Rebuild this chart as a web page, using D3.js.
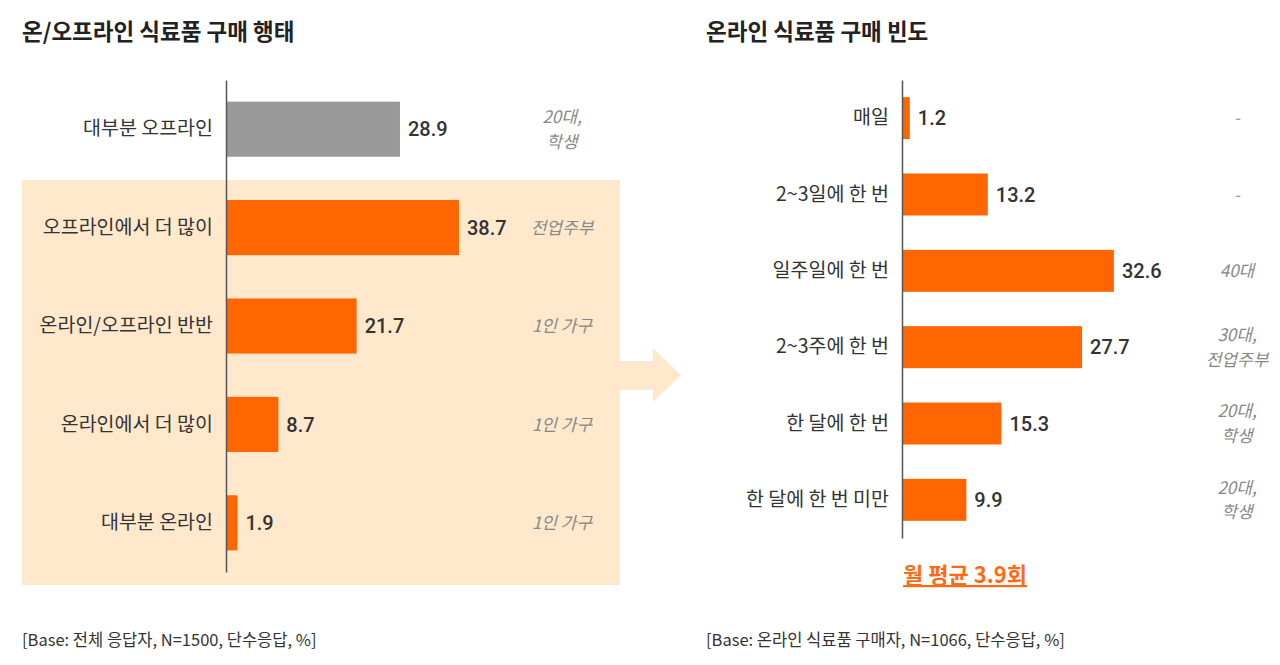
<!DOCTYPE html>
<html><head><meta charset="utf-8">
<script src="https://cdn.jsdelivr.net/npm/d3@7"></script>
<style>
html,body{margin:0;padding:0;background:#fff;}
text{font-family:"Noto Sans CJK KR","Noto Sans",sans-serif;}
</style></head>
<body><svg id="c" width="1280" height="665"></svg>
<script>
const leftCategories = ["대부분 오프라인","오프라인에서 더 많이","온라인/오프라인 반반","온라인에서 더 많이","대부분 온라인"];
const leftValues = [28.9, 38.7, 21.7, 8.7, 1.9];
const leftNotes = [["20대,","학생"],["전업주부"],["1인 가구"],["1인 가구"],["1인 가구"]];
const rightCategories = ["매일","2~3일에 한 번","일주일에 한 번","2~3주에 한 번","한 달에 한 번","한 달에 한 번 미만"];
const rightValues = [1.2, 13.2, 32.6, 27.7, 15.3, 9.9];
const rightNotes = [["-"],["-"],["40대"],["30대,","전업주부"],["20대,","학생"],["20대,","학생"]];
const leftTitle = "온/오프라인 식료품 구매 행태";
const rightTitle = "온라인 식료품 구매 빈도";
const leftBase = "[Base: 전체 응답자, N=1500, 단수응답, %]";
const rightBase = "[Base: 온라인 식료품 구매자, N=1066, 단수응답, %]";
const avgText = "월 평균 3.9회";

const svg = d3.select("#c");
const ORANGE = "#FF6600", GRAY = "#999999", BG = "#FFE8CC";

// background panel and arrow
svg.append("rect").attr("x",22).attr("y",180).attr("width",598).attr("height",405).attr("fill",BG);
svg.append("path").attr("d","M620,361 L653,361 L653,348 L681,375 L653,402 L653,390 L620,390 Z").attr("fill",BG);

// titles
svg.append("text").attr("x",22).attr("y",40).attr("font-size",22.5).attr("font-weight",700).attr("fill","#222").text(leftTitle);
svg.append("text").attr("x",706).attr("y",40).attr("font-size",22.5).attr("font-weight",700).attr("fill","#222").text(rightTitle);

function drawChart(cfg){
  const x = d3.scaleLinear().domain([0,40]).range([cfg.x0, cfg.x0 + cfg.ppu*40]);
  const y = d3.scaleBand().domain(cfg.cats).range(cfg.yr).paddingInner(cfg.pad).paddingOuter(cfg.pad/2);
  const g = svg.append("g");
  const data = cfg.cats.map((c,i)=>({c, v:cfg.vals[i], n:cfg.notes[i], i}));
  g.selectAll("rect.bar").data(data).join("rect").attr("class","bar")
    .attr("x", x(0)).attr("y", d=>y(d.c)).attr("width", d=>x(d.v)-x(0)).attr("height", y.bandwidth())
    .attr("fill", d=> (cfg.grayFirst && d.i===0) ? GRAY : ORANGE);
  // axis line
  const ax = d3.axisLeft(y).tickSize(0).tickPadding(13);
  const axg = g.append("g").attr("transform",`translate(${x(0)},0)`).call(ax);
  axg.select(".domain").attr("stroke","#555").attr("stroke-width",1.5);
  axg.selectAll(".tick text").attr("font-size",19.5).attr("fill","#333")
    .attr("font-family",'"Noto Sans CJK KR","Noto Sans",sans-serif');
  // value labels
  g.selectAll("text.val").data(data).join("text").attr("class","val")
    .attr("x", d=>x(d.v)+8).attr("y", d=>y(d.c)+y.bandwidth()/2).attr("dy","0.36em")
    .attr("font-size",20).attr("font-weight",500).attr("fill","#333")
    .style("font-family","Roboto, 'Noto Sans', sans-serif").text(d=>d.v.toFixed(1));
  // notes (one text per line)
  const lines = [];
  data.forEach(d=>{
    const cy = y(d.c)+y.bandwidth()/2;
    d.n.forEach((t,k)=>lines.push({t, y: cy + (k - (d.n.length-1)/2)*cfg.lh}));
  });
  g.selectAll("text.note").data(lines).join("text").attr("class","note")
    .attr("x", cfg.noteX).attr("y", d=>d.y).attr("dy","0.36em").attr("text-anchor","middle")
    .attr("font-size",17).attr("font-style","italic").attr("fill","#888").text(d=>d.t);
  return {x,y};
}

drawChart({cats:leftCategories, vals:leftValues, notes:leftNotes, x0:226, ppu:6.02, yr:[80,572], pad:0.44, noteX:562, grayFirst:true, lh:24.5});
drawChart({cats:rightCategories, vals:rightValues, notes:rightNotes, x0:902, ppu:6.5, yr:[80,538], pad:0.45, noteX:1237, grayFirst:false, lh:24.5});

// average
svg.append("text").attr("x",965).attr("y",583).attr("text-anchor","middle").attr("font-size",22).attr("font-weight",700)
  .attr("fill","#FF6A13").attr("text-decoration","underline").text(avgText);

// base footnotes
svg.append("text").attr("x",22).attr("y",646).attr("font-size",16.5).attr("fill","#333").text(leftBase);
svg.append("text").attr("x",706).attr("y",646).attr("font-size",16.5).attr("fill","#333").text(rightBase);
</script></body></html>
